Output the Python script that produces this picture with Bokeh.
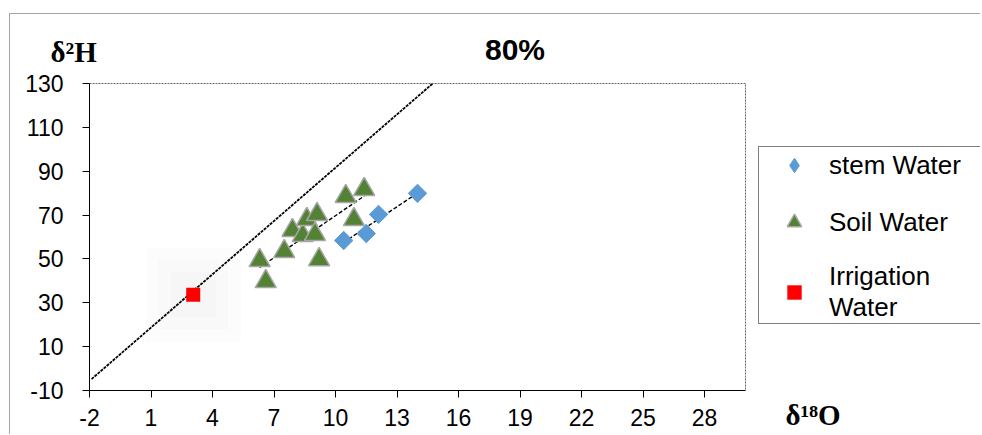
import numpy as np
from bokeh.plotting import figure
from bokeh.models import Range1d, FixedTicker, Legend, LegendItem, Label, Spacer
from bokeh.layouts import column, row
from bokeh.embed import file_html
from bokeh.resources import INLINE

# ---- data ----
stem_x = [10.4, 11.5, 12.1, 14.0]
stem_y = [58.4, 61.6, 70.3, 79.9]

soil_x = [6.3, 6.6, 7.5, 7.9, 8.4, 8.6, 9.1, 9.0, 9.2, 10.5, 11.4, 10.9]
soil_y = [49.3, 39.7, 53.4, 63.0, 60.7, 68.0, 70.3, 61.2, 49.7, 78.5, 81.7, 68.0]

irr_x = [3.06]
irr_y = [33.7]

gmwl_slope = 8.1
gmwl_intercept = 10.6
gmwl_x_start = -1.9

x_ticks = [-2, 1, 4, 7, 10, 13, 16, 19, 22, 25, 28]
y_ticks = [-10, 10, 30, 50, 70, 90, 110, 130]

title_text = "80%"
y_title = "δ²H"
x_title = "δ¹⁸O"
series_names = ["stem Water", "Soil Water", "Irrigation\nWater"]

SANS = "Liberation Sans"
SERIF = "Liberation Serif"
BORDER = "1px solid #a6a6a6"

STEM_STYLE = dict(marker="square", angle=np.pi / 4, size=13,
                  fill_color="#5b9bd5", line_color="#5b9bd5")
SOIL_STYLE = dict(marker="triangle", size=21, fill_color="#548235",
                  line_color="#a6a6a6", line_width=1.5)
IRR_STYLE = dict(marker="square", size=14, fill_color="#ff0000", line_color=None)


def bare(fig):
    fig.outline_line_color = None
    fig.grid.visible = False
    return fig


# ---- header (title + y title) ----
head = bare(figure(width=971, height=56, output_backend="svg", toolbar_location=None,
                   x_range=Range1d(10, 981), y_range=Range1d(70, 14),
                   x_axis_type=None, y_axis_type=None, min_border=0,
                   frame_align=False))
head.styles = {"border-top": BORDER, "border-left": BORDER}
head.add_layout(Label(x=50, y=51, text=y_title, text_font=SERIF,
                      text_font_size="29px", text_font_style="bold",
                      text_color="black",
                      text_align="left", text_baseline="alphabetic"))
head.add_layout(Label(x=514.5, y=49, text=title_text, text_font=SANS,
                      text_font_size="30px", text_font_style="bold",
                      text_color="black",
                      text_align="center", text_baseline="alphabetic"))

# ---- main plot ----
p = figure(width=742, height=365, output_backend="svg", toolbar_location=None,
           x_range=Range1d(-2, 30), y_range=Range1d(-10, 130),
           min_border_left=79, min_border_right=7, min_border_top=14,
           min_border_bottom=44, frame_align=False)
p.styles = {"border-left": BORDER}
p.xgrid.visible = False
p.ygrid.visible = False
p.outline_line_color = "#666666"
p.outline_line_dash = "2 1"
p.outline_line_width = 1

for ax, ticks in ((p.xaxis[0], x_ticks), (p.yaxis[0], y_ticks)):
    ax.ticker = FixedTicker(ticks=ticks)
    ax.major_label_overrides = {t: str(t) for t in ticks}
    ax.minor_tick_line_color = None
    ax.major_tick_in = 0
    ax.major_tick_out = 7
    ax.axis_line_color = "black"
    ax.major_tick_line_color = "black"
    ax.major_label_text_font = SANS
    ax.major_label_text_font_size = "23px"
    ax.major_label_text_color = "black"
p.yaxis[0].major_label_standoff = 19
p.xaxis[0].major_label_standoff = 11

# faint glow around irrigation point
for s in (95, 70, 45):
    p.scatter(irr_x, irr_y, marker="square", size=s, fill_color="#000000",
              fill_alpha=0.012, line_color=None)

# meteoric water line
gx = [gmwl_x_start, (130 - gmwl_intercept) / gmwl_slope]
gy = [gmwl_slope * v + gmwl_intercept for v in gx]
p.line(gx, gy, line_color="black", line_width=1.8, line_dash="3 1")

# regression lines
for xs, ys in ((soil_x, soil_y), (stem_x, stem_y)):
    m, b = np.polyfit(xs, ys, 1)
    lx = [min(xs), max(xs)]
    p.line(lx, [m * v + b for v in lx], line_color="black", line_width=1.4,
           line_dash="4 2")

p.scatter(soil_x, soil_y, **SOIL_STYLE)
p.scatter(stem_x, stem_y, **STEM_STYLE)
p.scatter(irr_x, irr_y, **IRR_STYLE)

# ---- side panel (legend + x title) ----
side = bare(figure(width=229, height=365, output_backend="svg", toolbar_location=None,
                   x_range=Range1d(752, 981), y_range=Range1d(435, 70),
                   x_axis_type=None, y_axis_type=None, min_border=0,
                   frame_align=False))
# legend proxies: same series, drawn outside this panel's visible range
legend_stem_style = dict(STEM_STYLE, marker="diamond", angle=0)
l_stem = side.scatter(stem_x, stem_y, **legend_stem_style)
l_soil = side.scatter(soil_x, soil_y, **SOIL_STYLE)
l_irr = side.scatter(irr_x, irr_y, **IRR_STYLE)

legend = Legend(items=[LegendItem(label=series_names[0], renderers=[l_stem]),
                       LegendItem(label=series_names[1], renderers=[l_soil]),
                       LegendItem(label=series_names[2], renderers=[l_irr])],
                location=(7, 110))
legend.label_text_font = SANS
legend.label_text_font_size = "26px"
legend.label_text_color = "black"
legend.border_line_color = "black"
legend.border_line_width = 1.5
legend.background_fill_alpha = 1
legend.padding = 0
legend.margin = 0
legend.glyph_width = 70
legend.glyph_height = 36
legend.label_height = 26
legend.label_width = 152
legend.label_standoff = 0
legend.spacing = 21
side.add_layout(legend)

side.add_layout(Label(x=786, y=415, text=x_title, text_font=SERIF,
                      text_font_size="29px", text_font_style="bold",
                      text_color="black",
                      text_align="left", text_baseline="alphabetic"))

layout = column(Spacer(height=13),
                row(Spacer(width=9), column(head, row(p, side))))
open("out.html", "w").write(file_html(layout, INLINE))
